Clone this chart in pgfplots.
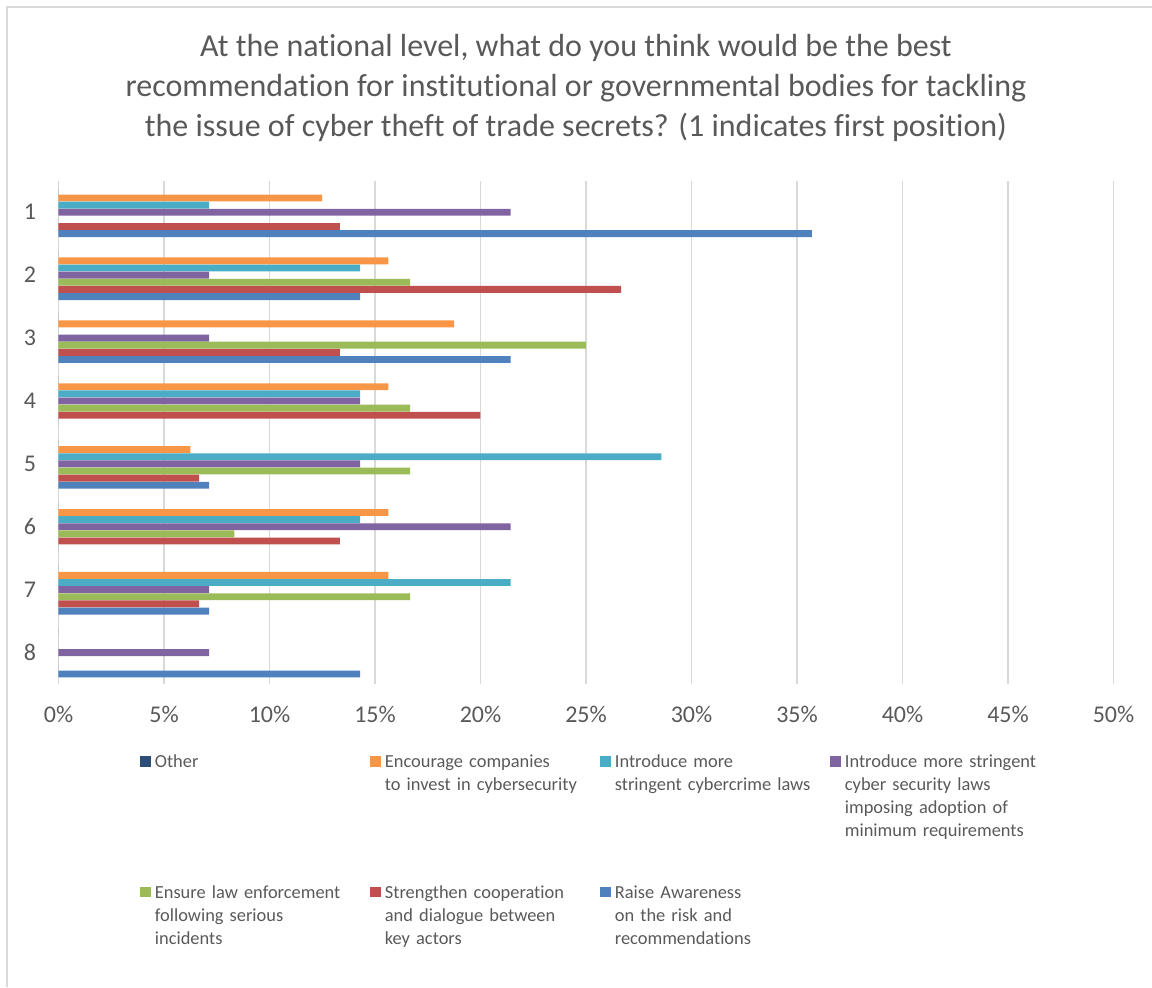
\documentclass[border=0pt]{standalone}
\usepackage{pgfplots}
\usepackage{pgfplotstable}
\pgfplotsset{compat=1.18}
\usepackage{fontspec}
\setmainfont{Carlito}[Ligatures=NoCommon]
\definecolor{cOther}{HTML}{2C4D75}
\definecolor{cOrange}{HTML}{F79646}
\definecolor{cTeal}{HTML}{4BACC6}
\definecolor{cPurple}{HTML}{8064A2}
\definecolor{cGreen}{HTML}{9BBB59}
\definecolor{cRed}{HTML}{C0504D}
\definecolor{cBlue}{HTML}{4F81BD}
\definecolor{tgray}{HTML}{595959}
\definecolor{ggray}{HTML}{D9D9D9}

\pgfplotstableread{
cat other encourage cybercrime cybersec ensure strengthen raise
1 0 12.5 7.14 21.43 0 13.33 35.71
2 0 15.63 14.29 7.14 16.67 26.67 14.29
3 0 18.75 0 7.14 25 13.33 21.43
4 0 15.63 14.29 14.29 16.67 20 0
5 0 6.25 28.57 14.29 16.67 6.67 7.14
6 0 15.63 14.29 21.43 8.33 13.33 0
7 0 15.63 21.43 7.14 16.67 6.67 7.14
8 0 0 0 7.14 0 0 14.29
}\datatable

\begin{document}
\begin{tikzpicture}
\useasboundingbox (-29.25pt,-151.5pt) rectangle (546.75pt,342pt);
\draw[ggray, line width=0.75pt] (-25.75pt,-151.5pt) -- (-25.75pt,338.5pt) -- (546.75pt,338.5pt);
\node[anchor=base, inner sep=0pt, text=tgray, font=\fontsize{16}{20}\selectfont] at (258.75pt,313.6pt) {At the national level, what do you think would be the best};
\node[anchor=base, inner sep=0pt, text=tgray, font=\fontsize{16}{20}\selectfont] at (258.75pt,293.9pt) {recommendation for institutional or governmental bodies for tackling};
\node[anchor=base, inner sep=0pt, text=tgray, font=\fontsize{16}{20}\selectfont] at (258.75pt,273.9pt) {the issue of cyber theft of trade secrets? (1 indicates first position)};
\begin{axis}[
  at={(0pt,0pt)}, anchor=south west,
  scale only axis, width=527.5pt, height=251.6pt,
  xmin=0, xmax=50, ymin=0.5, ymax=8.5,
  y dir=reverse,
  xbar, bar width=3.45pt,
  axis line style={draw=none},
  major tick length=0pt,
  xtick={0,5,...,50},
  xticklabels={0\%,5\%,10\%,15\%,20\%,25\%,30\%,35\%,40\%,45\%,50\%},
  ytick={1,...,8},
  yticklabels={1,2,3,4,5,6,7,8},
  xmajorgrids, grid style={ggray, line width=0.8pt},
  x tick label style={font=\fontsize{12}{14}\selectfont, text=tgray, anchor=base, yshift=-19.25pt, inner sep=0pt},
  y tick label style={font=\fontsize{12}{14}\selectfont, text=tgray, anchor=center, xshift=-14.25pt, inner sep=0pt},
  legend image code/.code={\fill[#1] (0pt,0.5pt) rectangle (5.3pt,5.8pt);},
  legend columns=4,
  legend cell align=left,
  legend style={at={(0.07725,-0.1411)}, anchor=north west, draw=none, fill=none,
    inner sep=0pt, outer sep=0pt,
    font=\fontsize{9.2}{11.5}\selectfont, text=tgray,
    nodes={anchor=base west, inner sep=0pt, text width=105pt, align=left},
    /tikz/every odd column/.append style={column sep=2.15pt},
    /tikz/every even column/.append style={column sep=2.55pt},
    row sep=57.3pt},
]
\addplot[fill=cOther, draw=none, bar shift=10.695pt] table[x=other, y=cat] {\datatable};
\addlegendentry{Other}
\addplot[fill=cOrange, draw=none, bar shift=7.13pt] table[x=encourage, y=cat] {\datatable};
\addlegendentry{Encourage companies\\to invest in cybersecurity}
\addplot[fill=cTeal, draw=none, bar shift=3.565pt] table[x=cybercrime, y=cat] {\datatable};
\addlegendentry{Introduce more\\stringent cybercrime laws}
\addplot[fill=cPurple, draw=none, bar shift=0pt] table[x=cybersec, y=cat] {\datatable};
\addlegendentry{Introduce more stringent\\cyber security laws\\imposing adoption of\\minimum requirements}
\addplot[fill=cGreen, draw=none, bar shift=-3.565pt] table[x=ensure, y=cat] {\datatable};
\addlegendentry{Ensure law enforcement\\following serious\\incidents}
\addplot[fill=cRed, draw=none, bar shift=-7.13pt] table[x=strengthen, y=cat] {\datatable};
\addlegendentry{Strengthen cooperation\\and dialogue between\\key actors}
\addplot[fill=cBlue, draw=none, bar shift=-10.695pt] table[x=raise, y=cat] {\datatable};
\addlegendentry{Raise Awareness\\on the risk and\\recommendations}
\end{axis}
\end{tikzpicture}
\end{document}
